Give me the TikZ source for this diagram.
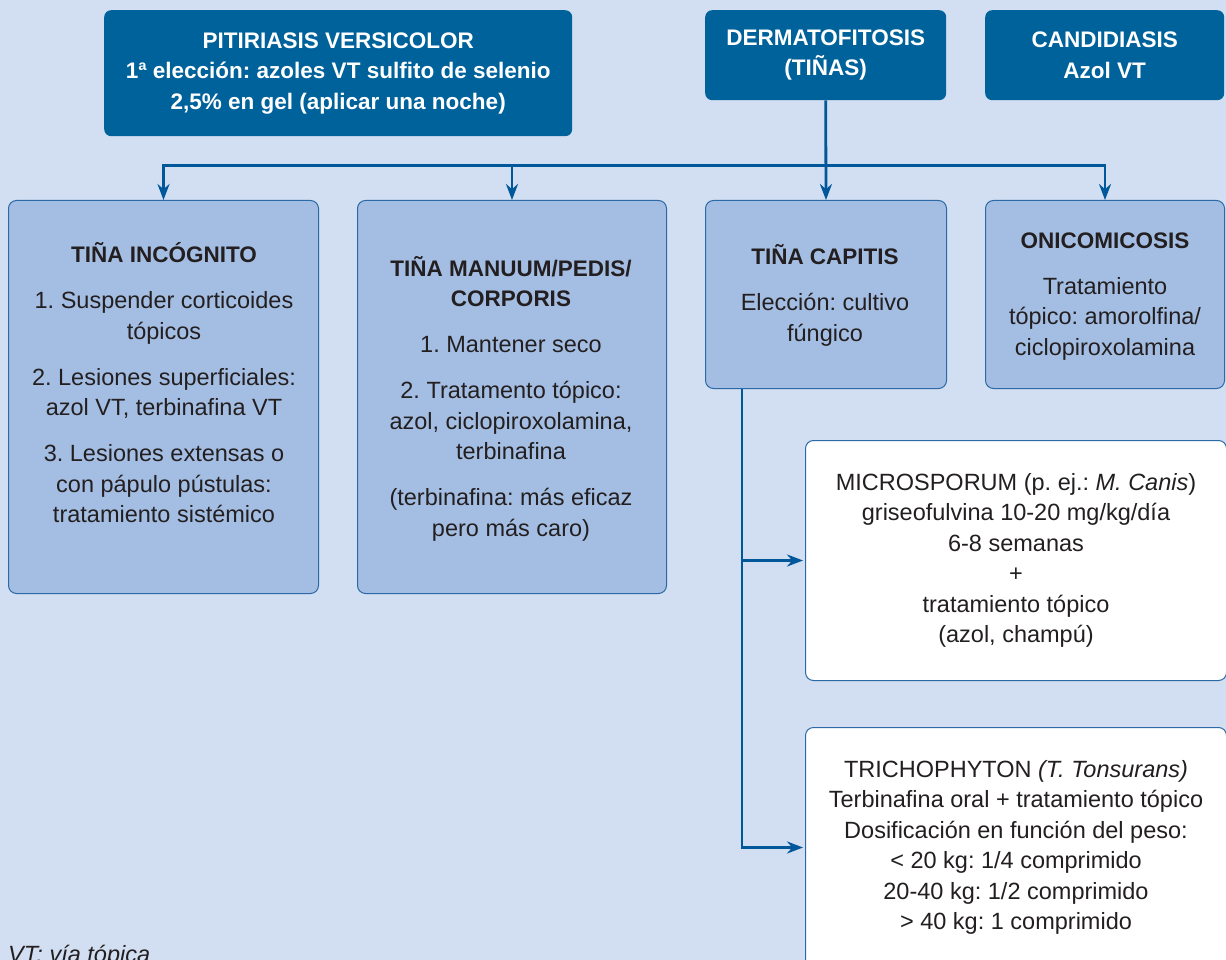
\documentclass[tikz,border=0pt]{standalone}
\usepackage{fontspec}
\setmainfont{Liberation Sans}
\usetikzlibrary{arrows.meta,calc}
\definecolor{bgc}{HTML}{D2DEF1}
\definecolor{darkb}{HTML}{00629B}
\definecolor{lightb}{HTML}{A4BEE3}
\definecolor{edgeb}{HTML}{2B6AA6}
\definecolor{linec}{HTML}{00589A}
\definecolor{txtc}{HTML}{231F20}
\newcommand\rf{\fontsize{23.5}{30.5}\selectfont}
\newcommand\bff{\fontsize{22.5}{30.5}\selectfont\bfseries}
\frenchspacing
\begin{document}
\begin{tikzpicture}[x=1pt,y=-1pt,
 darkbox/.style={fill=darkb, draw=none, rounded corners=7pt, text=white, font=\bff, align=center, anchor=north west, inner sep=0pt},
 lightbox/.style={fill=lightb, draw=edgeb, line width=1pt, rounded corners=8pt, anchor=north west, inner sep=0pt},
 whitebox/.style={fill=white, draw=edgeb, line width=1pt, rounded corners=8pt, anchor=north west, inner sep=0pt, align=center, font=\rf, text=txtc},
 body/.style={align=center, font=\rf, text=txtc, inner sep=0pt},
 conn/.style={draw=linec, line width=2.8pt},
 arr/.style={conn, -{Stealth[length=16pt,width=12pt]}},
]
\useasboundingbox (0,0) rectangle (1226,960);
\clip (0,0) rectangle (1226,960);
\fill[bgc] (0,0) rectangle (1226,960);

\node[darkbox, minimum width=468pt, minimum height=126pt] (pit) at (104,10)
 {PITIRIASIS VERSICOLOR\\1ª elección: azoles VT sulfito de selenio\\2,5\% en gel (aplicar una noche)};
\node[darkbox, minimum width=241pt, minimum height=90pt] (derm) at (705,10) {DERMATOFITOSIS\\(TIÑAS)};
\node[darkbox, minimum width=239pt, minimum height=90pt] (cand) at (985,10) {CANDIDIASIS\\Azol VT};

\node[lightbox, minimum width=310pt, minimum height=393pt] (inc) at (8,200) {};
\node[lightbox, minimum width=309pt, minimum height=393pt] (man) at (357,200) {};
\node[lightbox, minimum width=241pt, minimum height=188pt] (cap) at (705,200) {};
\node[lightbox, minimum width=239pt, minimum height=188pt] (oni) at (985,200) {};

\node[body] (incT) at (164,383) {{\bff TIÑA INCÓGNITO}\\[15.5pt]1. Suspender corticoides\\tópicos\\[15.5pt]2. Lesiones superficiales:\\azol VT, terbinafina VT\\[15.5pt]3. Lesiones extensas o\\con pápulo pústulas:\\tratamiento sistémico};
\node[body] (manT) at (511,398.5) {{\bff TIÑA MANUUM/PEDIS/}\\{\bff CORPORIS}\\[15.5pt]1. Mantener seco\\[15.5pt]2. Tratamento tópico:\\azol, ciclopiroxolamina,\\terbinafina\\[15.5pt](terbinafina: más eficaz\\pero más caro)};
\node[body] (capT) at (825,295.5) {{\bff TIÑA CAPITIS}\\[15.5pt]Elección: cultivo\\fúngico};
\node[body] (oniT) at (1105,296.5) {{\bff ONICOMICOSIS}\\[15.5pt]Tratamiento\\tópico: amorolfina/\\ciclopiroxolamina};

\node[whitebox, minimum width=421pt, minimum height=240pt] (mic) at (805,440)
 {MICROSPORUM (p. ej.: \textit{M. Canis})\\griseofulvina 10-20 mg/kg/día\\6-8 semanas\\+\\tratamiento tópico\\(azol, champú)};
\node[whitebox, minimum width=421pt, minimum height=240pt] (tri) at (805,727)
 {TRICHOPHYTON \textit{(T. Tonsurans)}\\Terbinafina oral + tratamiento tópico\\Dosificación en función del peso:\\< 20 kg: 1/4 comprimido\\20-40 kg: 1/2 comprimido\\> 40 kg: 1 comprimido};

\node[anchor=base west, font=\itshape\rf, text=txtc, inner sep=0pt] (note) at (8,962) {VT: vía tópica};

\coordinate (hub) at ($(derm.south)!0.65!(cap.north)$);
\draw[arr] (derm.south) -- (cap.north);
\draw[arr] (hub) -| (inc.north);
\draw[arr] (hub) -| (man.north);
\draw[arr] (hub) -| (oni.north);
\coordinate (capb) at ($(cap.south west)+(37,0)$);
\draw[arr, shorten >=2pt] (capb) |- (mic.west);
\draw[arr, shorten >=2pt] (capb) |- (tri.west);
\end{tikzpicture}
\end{document}
